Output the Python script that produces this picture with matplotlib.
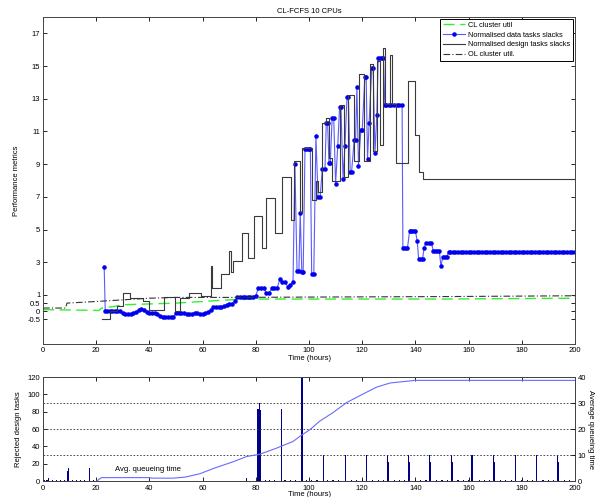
import matplotlib
matplotlib.use("Agg")
import matplotlib.pyplot as plt

plt.rcParams['font.family'] = ['Liberation Sans', 'DejaVu Sans']
plt.rcParams['font.size'] = 5.5

# ---------------- data (top panel) ----------------
cl_t = [0, 10, 21, 22, 27, 30, 40, 50, 60, 70, 80, 100, 150, 200]
cl_v = [0.1, 0.08, 0.05, 0.2, 0.3, 0.4, 0.45, 0.5, 0.6, 0.7, 0.75, 0.75, 0.75, 0.8]

ol_t = [0, 8.5, 9, 20, 30, 40, 50, 70, 100, 150, 200]
ol_v = [0.2, 0.2, 0.5, 0.6, 0.7, 0.8, 0.85, 0.85, 0.87, 0.9, 0.95]

data_t = ([23, 23.4, 24, 25, 26, 27, 28, 29]
          + [30, 31, 32, 33, 34, 35, 36, 37, 38]
          + [39, 40, 41, 42, 43, 44, 45, 46, 47, 48, 49]
          + [50, 51, 52, 53, 54, 55, 56, 57, 58, 59, 60, 61, 62]
          + [63, 64, 65, 66, 67, 68, 69, 70, 71, 72]
          + [73, 74, 75, 76, 77, 78, 79, 80]
          + [81, 82, 83, 84, 85, 86, 87, 88, 89, 90, 91, 92, 93, 94]
          + [94.7, 95.5, 96.2, 96.7, 97.3, 97.8, 98.5, 99.2, 100, 100.5, 101, 101.8]
          + [102.6, 103.4, 104.2, 105, 106, 106.5, 107, 107.5, 108]
          + [108.7, 109.3, 110, 110.8, 111.5, 112, 112.8, 113.5]
          + [114.3, 114.8, 115.5, 116, 117, 117.5, 118, 118.6, 119.5, 120]
          + [121, 121.5, 122, 122.6, 123.6, 124.1, 124.8, 125.5]
          + [126, 126.7, 127.4, 128, 128.5, 129, 130, 131, 132, 133, 134, 135]
          + [135.3, 136, 137, 137.8, 138.5, 139.2, 140, 140.7, 141.2, 142, 142.7, 143.3]
          + [144, 145, 146, 146.7, 147.5, 148.3, 149, 149.6, 150.3, 151, 151.8]
          + [152.5, 153, 154, 155, 156, 157, 158, 159, 160, 161, 162, 163, 164,
             165, 166, 167, 168, 169, 170, 171, 172, 173, 174, 175, 176, 177,
             178, 179, 180, 181, 182, 183, 184, 185, 186, 187, 188, 189, 190,
             191, 192, 193, 194, 195, 196, 197, 198, 199, 200])
data_v = ([2.7, 0.0, 0.0, 0.0, 0.0, 0.0, 0.0, 0.0]
          + [-0.1, -0.15, -0.15, -0.15, -0.1, -0.05, 0.1, 0.15, 0.1]
          + [-0.05, -0.1, -0.1, -0.1, -0.15, -0.3, -0.35, -0.35, -0.35, -0.35, -0.35]
          + [-0.1, -0.1, -0.1, -0.1, -0.15, -0.15, -0.15, -0.1, -0.1, -0.15, -0.15, -0.1, -0.05]
          + [0.1, 0.25, 0.25, 0.25, 0.25, 0.3, 0.4, 0.45, 0.45, 0.6]
          + [0.85, 0.85, 0.85, 0.9, 0.9, 0.9, 0.9, 0.95]
          + [1.45, 1.45, 1.4, 1.1, 1.1, 1.4, 1.4, 1.4, 1.95, 1.8, 1.8, 1.5, 1.6, 1.8]
          + [9.0, 2.45, 2.45, 6.0, 2.4, 2.4, 9.9, 9.9, 9.9, 9.9, 2.3, 2.3]
          + [10.7, 7.0, 7.0, 8.7, 8.7, 11.5, 11.5, 9.1, 9.1]
          + [11.8, 11.8, 7.8, 10.1, 12.5, 12.5, 8.1, 10.1]
          + [13.1, 13.1, 8.5, 8.5, 10.5, 10.5, 13.7, 8.9, 11.1, 11.1]
          + [14.3, 14.3, 9.3, 11.5, 14.9, 14.9, 9.7, 12.0]
          + [15.5, 15.5, 15.5, 15.5, 12.6, 12.6, 12.6, 12.6, 12.6, 12.6, 12.6, 12.6]
          + [3.85, 3.85, 3.85, 4.9, 4.9, 4.9, 4.9, 4.3, 3.2, 3.2, 3.2, 3.9]
          + [4.2, 4.2, 4.2, 3.7, 3.7, 3.7, 3.7, 2.75, 3.35, 3.35, 3.35]
          + [3.65, 3.65, 3.65, 3.65, 3.65, 3.65, 3.65, 3.65, 3.65, 3.65, 3.65,
             3.65, 3.65, 3.65, 3.65, 3.65, 3.65, 3.65, 3.65, 3.65, 3.65, 3.65,
             3.65, 3.65, 3.65, 3.65, 3.65, 3.65, 3.65, 3.65, 3.65, 3.65, 3.65,
             3.65, 3.65, 3.65, 3.65, 3.65, 3.65, 3.65, 3.65, 3.65, 3.65, 3.65,
             3.65, 3.65, 3.65, 3.65, 3.65])

design_t = [22, 25, 28, 30, 32.7, 37.6, 40, 45.5, 49.5, 51.5,
            55, 59.5, 63, 63.5, 67, 70, 70.5, 71.5, 74.8, 77,
            79.5, 82.3, 83.8, 87.3, 89.8, 93.2, 94.5, 96.7, 97.3, 101,
            102.5, 103.5, 105, 106.5, 107.5, 108.5, 111.5, 113, 114.5, 116.8,
            118.7, 120.5, 122.8, 124, 125.5, 126.7, 127.8, 128.5, 130.5, 131.3,
            132.8, 137.3, 139.7, 141.2, 142.8, 200]
design_v = [-0.5, 0.0, 0.35, 1.1, 0.8, 0.65, 0.05, 0.85, 0.0, 0.8,
            1.1, 0.95, 2.75, 1.45, 2.3, 3.7, 2.4, 3.1, 4.8, 3.25,
            5.85, 3.85, 6.9, 4.8, 8.2, 5.6, 9.2, 6.1, 10.0, 6.8,
            8.0, 7.3, 11.5, 11.8, 9.4, 8.0, 12.6, 8.2, 13.2, 9.2,
            14.5, 9.2, 15.1, 9.8, 15.3, 10.2, 16.1, 12.7, 15.7, 12.7,
            9.1, 14.1, 10.8, 8.5, 8.1, 8.1]

top_yticks = [-0.5, 0, 0.5, 1, 3, 5, 7, 9, 11, 13, 15, 17]
xticks = [0, 20, 40, 60, 80, 100, 120, 140, 160, 180, 200]

# ---------------- data (bottom panel) ----------------
rej_t = ([0.5, 1.5, 2.2, 3.5, 5, 6.5, 8, 9.3, 9.7, 11, 12.5, 14, 15.5, 17.5, 19]
         + [76.5, 80.8, 81.3, 81.8, 83.5, 85, 87, 89.6, 89.8, 91, 93, 95]
         + [97.4, 97.6, 99, 101, 103]
         + [105.4, 105.6, 107, 109, 111]
         + [113.6, 113.8, 116, 118, 120]
         + [121.5, 121.7, 124, 126, 128]
         + [129.5, 129.7, 132, 134, 136]
         + [137.4, 137.6, 140, 142, 144]
         + [145.3, 145.5, 148, 150, 152]
         + [153.6, 153.8, 156, 158, 160]
         + [161.3, 161.5, 164, 166, 168]
         + [169.4, 169.6, 172, 174, 176]
         + [177.5, 177.7, 180, 182, 184]
         + [185.4, 185.6, 188, 190, 192]
         + [193.5, 193.7, 196, 198])
rej_v = ([1, 1, 4, 1, 1, 1, 1, 12, 15, 1, 1, 1, 1, 15, 1]
         + [3, 83, 90, 82, 1, 1, 1, 83, 54, 1, 1, 1]
         + [120, 22, 1, 1, 1]
         + [30, 22, 1, 1, 1]
         + [30, 22, 1, 1, 1]
         + [30, 22, 1, 1, 1]
         + [30, 22, 1, 1, 1]
         + [30, 22, 1, 1, 1]
         + [30, 22, 1, 1, 1]
         + [30, 22, 1, 1, 1]
         + [30, 22, 1, 1, 1]
         + [30, 22, 1, 1, 1]
         + [30, 22, 1, 1, 1]
         + [30, 22, 1, 1, 1]
         + [30, 22, 1, 1])

queue_t = [20.2, 22, 40, 41, 49, 53.5, 59, 64, 71.5, 76.5, 81.5, 87.7, 94,
           96.6, 100.4, 104, 109, 114.2, 120.4, 125.4, 130.5, 139.8, 200]
queue_v = [0, 1.3, 1.3, 1.1, 1.1, 1.5, 2.8, 4.8, 7.4, 9.4, 10.3, 12.6, 15.2,
           17.2, 19.8, 23, 26.3, 30.2, 33.5, 36.1, 37.7, 38.7, 38.7]

left_yticks = [0, 20, 40, 60, 80, 100, 120]
right_yticks = [0, 10, 20, 30, 40]

# ---------------- figure ----------------
fig = plt.figure(figsize=(6.02, 4.97), dpi=100)
W, H = 602, 497
ax1 = fig.add_axes([43 / W, (H - 344) / H, (575 - 43) / W, (344 - 17) / H])

l1, = ax1.plot(cl_t, cl_v, linestyle=(0, (8, 4)), color='#33ee33', lw=1.0,
               label='CL cluster util')
l2, = ax1.plot(data_t, data_v, '-', color='#5a5aff', lw=0.8, marker='.',
               markersize=4.5, markerfacecolor='#0000ee',
               markeredgecolor='#0000ee', label='Normalised data tasks slacks')
l3, = ax1.plot(design_t, design_v, '-', color='#3a3a3a', lw=0.8,
               drawstyle='steps-post', label='Normalised design tasks slacks')
l4, = ax1.plot(ol_t, ol_v, linestyle=(0, (6, 2, 1, 2)), color='#333333', lw=0.8,
               label='OL cluster util.')

ax1.set_xlim(0, 200)
ax1.set_ylim(-2, 18)
ax1.set_xticks(xticks)
ax1.set_yticks(top_yticks)
ax1.set_yticklabels([('%g' % v) for v in top_yticks])
ax1.tick_params(direction='in', length=3, top=True, right=True, labelsize=5.5,
                width=0.6, pad=2)
ax1.set_title('CL-FCFS 10 CPUs', fontsize=5.5, pad=3)
ax1.set_ylabel('Performance metrics', fontsize=5.5, labelpad=5)
ax1.set_xlabel('Time (hours)', fontsize=5.5, labelpad=1)
for s in ax1.spines.values():
    s.set_linewidth(0.7)
    s.set_color('#444444')

leg = ax1.legend(handles=[l1, l2, l3, l4], loc='upper right', fontsize=5.3,
                 fancybox=False, framealpha=1, edgecolor='black',
                 borderaxespad=0.3, handlelength=3.0, labelspacing=0.35,
                 borderpad=0.35, handletextpad=0.4)
leg.get_frame().set_linewidth(0.7)

# bottom panel
ax3 = fig.add_axes([43 / W, (H - 481) / H, (575 - 43) / W, (481 - 377) / H])
ax3.bar(rej_t, rej_v, width=0.45, color='#000088', linewidth=0)
ax3.set_xlim(0, 200)
ax3.set_ylim(0, 120)
ax3.set_xticks(xticks)
ax3.set_yticks(left_yticks)
ax3.tick_params(direction='in', length=3, top=True, labelsize=5.5, width=0.6,
                pad=2)
ax3.tick_params(axis='x', pad=3)
ax3.set_ylabel('Rejected design tasks', fontsize=5.5, labelpad=4)
ax3.set_xlabel('Time (hours)', fontsize=5.5, labelpad=-1)
ax3.text(27, 11, 'Avg. queueing time', fontsize=5.5)

ax4 = ax3.twinx()
ax4.plot(queue_t, queue_v, '-', color='#6a6aff', lw=0.8)
ax4.set_ylim(0, 40)
ax4.set_yticks(right_yticks)
ax4.tick_params(direction='in', length=3, labelsize=5.5, width=0.6, pad=2)
ax4.set_ylabel('Average queueing time', fontsize=5.5, rotation=270, labelpad=6)
ax4.yaxis.grid(True, linestyle=(0, (2, 2)), color='#333333', lw=0.6)
ax4.set_xlim(0, 200)
for a in (ax3, ax4):
    for s in a.spines.values():
        s.set_linewidth(0.7)
        s.set_color('#444444')

fig.savefig('out.png', dpi=100)
